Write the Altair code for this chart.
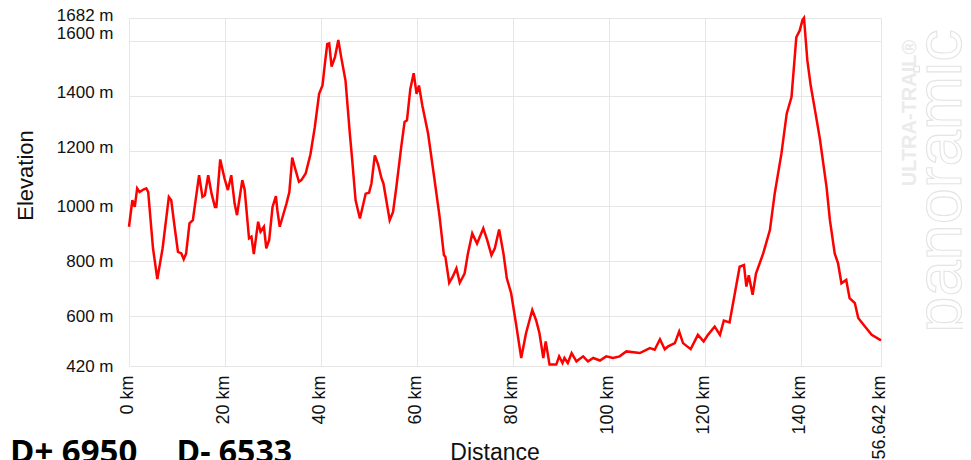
import altair as alt
import pandas as pd

km = [0.0, 0.7, 1.2, 1.7, 2.2, 3.0, 3.6, 4.0, 5.0, 5.9, 7.0, 8.3, 8.8, 9.5, 10.2, 10.9, 11.4, 11.9,
      12.6, 13.3, 14.6, 15.3, 15.8, 16.5, 17.2, 17.9, 18.2, 19.0, 19.9, 20.6, 21.3, 22.0, 22.5,
      23.6, 24.1, 25.0, 25.5, 26.0, 26.9, 27.4, 28.1, 28.6, 29.2, 29.9, 30.6, 30.9, 31.4, 32.2,
      32.8, 33.4, 34.0, 34.7, 35.4, 35.9, 36.8, 37.8, 38.7, 39.6, 40.3, 40.8, 41.3, 41.7, 42.2,
      42.9, 43.6, 44.2, 45.1, 46.0, 46.5, 47.2, 48.1, 48.6, 49.3, 50.0, 50.5, 51.2, 51.9, 52.6,
      53.0, 54.3, 55.0, 55.7, 56.7, 57.4, 57.9, 58.6, 59.3, 59.9, 60.4, 61.1, 62.3, 63.7, 64.7,
      65.6, 65.9, 66.7, 67.4, 68.2, 68.9, 69.9, 70.6, 71.5, 72.5, 73.8, 74.6, 75.5, 76.2, 77.1,
      78.0, 78.7, 79.6, 80.6, 81.7, 82.7, 84.0, 84.8, 85.5, 86.3, 86.8, 87.6, 89.0, 89.6, 90.3,
      90.7, 91.4, 92.2, 93.2, 94.6, 95.6, 96.7, 98.1, 99.4, 100.8, 102.2, 103.6, 106.4, 108.5,
      109.5, 110.6, 111.6, 112.3, 113.7, 114.6, 115.4, 117.0, 118.5, 119.7, 120.6, 122.0, 123.1,
      123.9, 125.1, 126.2, 127.2, 128.1, 128.6, 129.1, 129.9, 130.6, 132.1, 133.5, 134.5, 135.9,
      137.0, 138.0, 139.0, 139.7, 140.3, 140.6, 141.3, 142.0, 142.9, 143.9, 145.3, 146.0, 147.0,
      147.7, 148.4, 149.4, 150.1, 151.2, 151.9, 153.3, 154.7, 156.642]
elevation = [925, 1021, 997, 1064, 1051, 1060, 1064, 1051, 847, 735, 847, 1033, 1021, 925, 834, 828,
             807, 828, 937, 949, 1112, 1033, 1039, 1112, 1045, 997, 997, 1169, 1100, 1058, 1112,
             1009, 967, 1094, 1058, 883, 889, 826, 943, 907, 925, 847, 877, 997, 1036, 985, 925,
             973, 1009, 1051, 1176, 1130, 1088, 1094, 1118, 1188, 1286, 1407, 1437, 1516, 1588,
             1590, 1506, 1540, 1602, 1540, 1455, 1263, 1166, 1021, 955, 992, 1045, 1048, 1082,
             1184, 1150, 1100, 1082, 949, 979, 1070, 1214, 1305, 1311, 1425, 1482, 1407, 1437,
             1365, 1263, 1088, 961, 822, 816, 722, 743, 774, 722, 755, 828, 901, 864, 919, 877,
             822, 847, 915, 828, 738, 684, 575, 449, 539, 623, 586, 539, 449, 509, 425, 425, 455,
             431, 449, 431, 467, 437, 455, 437, 449, 440, 455, 449, 455, 473, 467, 485, 479, 517,
             481, 491, 503, 545, 503, 481, 533, 509, 533, 563, 533, 585, 578, 684, 780, 786, 708,
             749, 678, 755, 828, 913, 1045, 1190, 1335, 1395, 1612, 1636, 1675, 1682, 1528, 1437,
             1347, 1245, 1069, 949, 828, 792, 720, 732, 666, 648, 594, 563, 533, 513]

x_ticks = [0, 20, 40, 60, 80, 100, 120, 140, 156.642]
y_ticks = [420, 600, 800, 1000, 1200, 1400, 1600, 1682]

gain_text = "D+ 6950"
loss_text = "D- 6533"
x_title = "Distance"
y_title = "Elevation"
brand_small = "ULTRA-TRAIL®"
brand_big = "panoramic"

df = pd.DataFrame({"km": km, "elev": elevation})
one = pd.DataFrame({"k": [0]})

W, H = 752, 348
FONT = "Liberation Sans"

line = alt.Chart(df).mark_line(color="#ff0000", strokeWidth=2.5, clip=False).encode(
    x=alt.X("km:Q",
            scale=alt.Scale(domain=[0, 156.642], nice=False, zero=False),
            axis=alt.Axis(values=x_ticks, title=None,
                          labelExpr="datum.value + ' km'",
                          labelAngle=270, labelFont=FONT, labelFontSize=18,
                          labelColor="#111111", labelPadding=9, labelOffset=-2,
                          ticks=False, tickSize=0, domain=False,
                          grid=True, gridColor="#e6e6e6", gridWidth=1,
                          labelFlush=False, labelOverlap=False, labelBound=False)),
    y=alt.Y("elev:Q",
            scale=alt.Scale(domain=[420, 1682], nice=False, zero=False),
            axis=alt.Axis(values=y_ticks, title=None,
                          labelExpr="datum.value + ' m'",
                          labelFont=FONT, labelFontSize=17, labelColor="#111111",
                          labelPadding=16,
                          labelOffset={"condition": [
                              {"test": "datum.value >= 1650", "value": -3},
                              {"test": "datum.value >= 1600", "value": -7},
                              {"test": "datum.value >= 1200", "value": -3}],
                              "value": 0},
                          ticks=False, tickSize=0, domain=False,
                          grid=True, gridColor="#e6e6e6", gridWidth=1,
                          labelFlush=False, labelOverlap=False, labelBound=False)),
)


def txt(text, x, y, **kw):
    return alt.Chart(one).mark_text(text=text, **kw).encode(
        x=alt.value(x), y=alt.value(y))


gain = txt(gain_text, -119, 445, font="Open Sans", fontSize=33, fontWeight="bold",
           align="left", baseline="alphabetic", color="#000000")
loss = txt(loss_text, 47.5, 445, font="Open Sans", fontSize=32, fontWeight="bold",
           align="left", baseline="alphabetic", color="#000000")
xt = txt(x_title, 366, 442, font=FONT, fontSize=23, align="center",
         baseline="alphabetic", color="#111111")
yt = txt(y_title, -96.5, 157.5, font=FONT, fontSize=22, align="center",
         baseline="alphabetic", angle=270, color="#111111")
b1 = txt(brand_small, 787, 95, font=FONT, fontSize=20, fontWeight="bold",
         align="center", baseline="alphabetic", angle=270, color="#ebebeb")
b2 = txt(brand_big, 832, 163, font=FONT, fontSize=65, align="center",
         baseline="alphabetic", angle=270, fill="#ffffff", stroke="#e4e4e4",
         strokeWidth=1.1)

chart = alt.layer(line, gain, loss, xt, yt, b1, b2).properties(
    width=W, height=H,
    padding={"left": 121, "top": 10, "right": 82, "bottom": 94},
    autosize=alt.AutoSizeParams(type="none"),
).configure_view(stroke="#e6e6e6", strokeWidth=1)

chart.save("out.html", embed_options={"renderer": "svg", "actions": False})
